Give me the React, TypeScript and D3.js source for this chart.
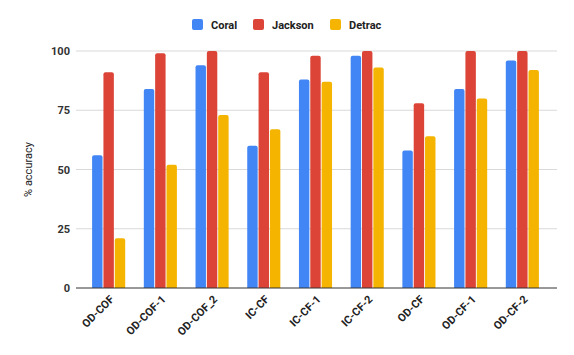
import React from 'react'
import * as d3 from 'd3'

const categories = ['OD-COF', 'OD-COF-1', 'OD-COF_2', 'IC-CF', 'IC-CF-1', 'IC-CF-2', 'OD-CF', 'OD-CF-1', 'OD-CF-2']
const seriesNames = ['Coral', 'Jackson', 'Detrac']
const coral = [56, 84, 94, 60, 88, 98, 58, 84, 96]
const jackson = [91, 99, 100, 91, 98, 100, 78, 100, 100]
const detrac = [21, 52, 73, 67, 87, 93, 64, 80, 92]
const yTicks = [0, 25, 50, 75, 100]
const colors = ['#4285F4', '#DB4437', '#F4B400']

const W = 574
const H = 355
const left = 76
const right = 557
const top = 51
const bottom = 288

export default function App() {
    const series = [coral, jackson, detrac]
    const x = d3.scaleBand().domain(categories).range([left - 2, right]).paddingInner(0.36).paddingOuter(0.35)
    const xs = d3.scaleBand().domain(seriesNames).range([0, x.bandwidth()]).paddingInner(0.08)
    const y = d3.scaleLinear().domain([0, 100]).range([bottom, top])
    const font = 'Roboto, Arial, sans-serif'

    // legend positions
    const legendX = [192, 253, 330]

    return (
        <svg width={W} height={H} style={{position: 'absolute', left: 0, top: 0, background: '#fff'}} fontFamily={font}>
            {yTicks.map(t => (
                <g key={t}>
                    {t > 0 && <line x1={left} x2={right} y1={y(t)} y2={y(t)} stroke='#d9d9d9' strokeWidth={1} />}
                    <text x={70} y={y(t) + 4} textAnchor='end' fontSize={11} fontWeight='bold' fill='#333'>{t}</text>
                </g>
            ))}
            {categories.map((c, i) => (
                <g key={c} transform={'translate(' + x(c) + ',0)'}>
                    {series.map((s, j) => {
                        const bx = xs(seriesNames[j]) as number
                        const by = y(s[i])
                        const bw = xs.bandwidth()
                        const bh = bottom - by
                        const r = 2
                        const d = 'M' + bx + ',' + bottom +
                            'V' + (by + r) +
                            'Q' + bx + ',' + by + ' ' + (bx + r) + ',' + by +
                            'H' + (bx + bw - r) +
                            'Q' + (bx + bw) + ',' + by + ' ' + (bx + bw) + ',' + (by + r) +
                            'V' + bottom + 'Z'
                        return bh > 0 ? <path key={j} d={d} fill={colors[j]} /> : null
                    })}
                </g>
            ))}
            <line x1={left} x2={right} y1={bottom} y2={bottom} stroke='#333' strokeWidth={1} />
            {categories.map(c => {
                const cx = (x(c) as number) + x.bandwidth() / 2 + 6
                const cy = bottom + 12
                return (
                    <text key={c} transform={'translate(' + cx + ',' + cy + ') rotate(-45)'} textAnchor='end'
                        fontSize={11} fontWeight='bold' fill='#222'>{c}</text>
                )
            })}
            <text transform={'translate(32,' + (top + bottom) / 2 + ') rotate(-90)'} textAnchor='middle'
                fontSize={11} fill='#222'>% accuracy</text>
            {seriesNames.map((n, i) => (
                <g key={n}>
                    <rect x={legendX[i]} y={19} width={11} height={11} rx={2} fill={colors[i]} />
                    <text x={legendX[i] + 19} y={29} fontSize={11} fontWeight='bold' fill='#222'>{n}</text>
                </g>
            ))}
        </svg>
    )
}
